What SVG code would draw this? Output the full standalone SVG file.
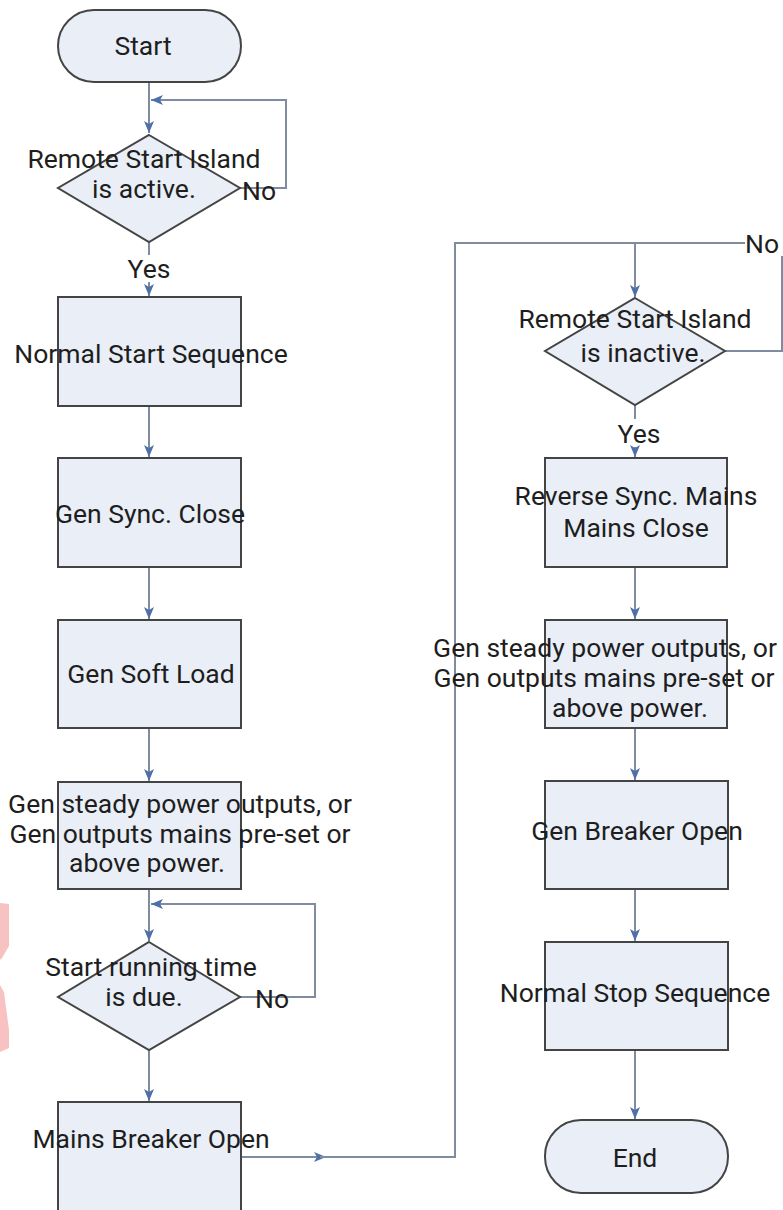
<svg xmlns="http://www.w3.org/2000/svg" width="783" height="1210" viewBox="0 0 783 1210">
<defs>
<marker id="ah" viewBox="0 0 12 10" refX="12" refY="5" markerWidth="12" markerHeight="10" markerUnits="userSpaceOnUse" orient="auto">
<path d="M0,0 L12,5 L0,10 L3,5 z" fill="#4e70a8"/>
</marker>
<style>
.box{fill:#e9eef7;stroke:#444;stroke-width:2}
.t{font-family:Roboto,"Liberation Sans",sans-serif;font-size:26.5px;fill:#1e1e1e;text-anchor:middle;dominant-baseline:central}
.l{font-family:Roboto,"Liberation Sans",sans-serif;font-size:26.5px;fill:#1e1e1e;dominant-baseline:central}
.c{fill:none;stroke:#7f8ca0;stroke-width:2}
</style>
</defs>
<rect width="783" height="1210" fill="#fff"/>
<g id="watermark" fill="#f8c2c2">
<polygon points="0,903 9,904 9,946 2,958 0,960"/>
<polygon points="0,985 4,992 9,1030 9,1048 0,1052"/>
</g>
<g id="connectors">
<path class="c" d="M149,82 V133" marker-end="url(#ah)"/>
<path class="c" d="M240,188 H286 V100 H151" marker-end="url(#ah)"/>
<path class="c" d="M149,242 V255"/>
<path class="c" d="M149,282 V296" marker-end="url(#ah)"/>
<path class="c" d="M149,406 V457" marker-end="url(#ah)"/>
<path class="c" d="M149,567 V619" marker-end="url(#ah)"/>
<path class="c" d="M149,728 V781" marker-end="url(#ah)"/>
<path class="c" d="M149,889 V941" marker-end="url(#ah)"/>
<path class="c" d="M240,997 H315 V904 H151" marker-end="url(#ah)"/>
<path class="c" d="M149,1050 V1101" marker-end="url(#ah)"/>
<path class="c" d="M241,1157 H326" marker-end="url(#ah)"/>
<path class="c" d="M320,1157 H455 V243 H745"/>
<path class="c" d="M725,351 H782 V256"/>
<path class="c" d="M635,243 V297" marker-end="url(#ah)"/>
<path class="c" d="M635,405 V419"/>
<path class="c" d="M635,447 V457" marker-end="url(#ah)"/>
<path class="c" d="M635,567 V619" marker-end="url(#ah)"/>
<path class="c" d="M635,728 V780" marker-end="url(#ah)"/>
<path class="c" d="M635,889 V941" marker-end="url(#ah)"/>
<path class="c" d="M635,1050 V1119" marker-end="url(#ah)"/>
</g>
<g id="start">
<rect class="box" x="58" y="10" width="183" height="72" rx="36" ry="36"/>
<text class="t" x="143" y="45">Start</text>
</g>
<g id="d1">
<polygon class="box" points="149,135 240,188 149,242 58,188"/>
<text class="t" x="144" y="158">Remote Start Island</text>
<text class="t" x="144" y="188">is active.</text>
<text class="l" x="242" y="190">No</text>
<text class="t" x="149" y="268">Yes</text>
</g>
<g id="b1">
<rect class="box" x="58" y="297" width="183" height="109"/>
<text class="t" x="151" y="353">Normal Start Sequence</text>
</g>
<g id="b2">
<rect class="box" x="58" y="458" width="183" height="109"/>
<text class="t" x="150" y="513">Gen Sync. Close</text>
</g>
<g id="b3">
<rect class="box" x="58" y="620" width="183" height="108"/>
<text class="t" x="151" y="673">Gen Soft Load</text>
</g>
<g id="b4">
<rect class="box" x="58" y="782" width="183" height="107"/>
<text class="t" x="180" y="803">Gen steady power outputs, or</text>
<text class="t" x="180" y="833">Gen outputs mains pre-set or</text>
<text class="t" x="147" y="862">above power.</text>
</g>
<g id="d2">
<polygon class="box" points="149,942 240,997 149,1050 58,997"/>
<text class="t" x="151" y="966">Start running time</text>
<text class="t" x="144" y="996">is due.</text>
<text class="l" x="255" y="998">No</text>
</g>
<g id="b5">
<rect class="box" x="58" y="1102" width="183" height="120"/>
<text class="t" x="151" y="1138">Mains Breaker Open</text>
</g>
<g id="d3">
<polygon class="box" points="635,298 725,351 635,405 545,351"/>
<text class="t" x="635" y="318">Remote Start Island</text>
<text class="t" x="643" y="352">is inactive.</text>
<text class="l" x="745" y="243">No</text>
<text class="t" x="639" y="433">Yes</text>
</g>
<g id="r1">
<rect class="box" x="545" y="458" width="182" height="109"/>
<text class="t" x="636" y="495">Reverse Sync. Mains</text>
<text class="t" x="636" y="527">Mains Close</text>
</g>
<g id="r2">
<rect class="box" x="545" y="620" width="182" height="108"/>
<text class="t" x="605" y="647">Gen steady power outputs, or</text>
<text class="t" x="604" y="677">Gen outputs mains pre-set or</text>
<text class="t" x="630" y="707">above power.</text>
</g>
<g id="r3">
<rect class="box" x="545" y="781" width="183" height="108"/>
<text class="t" x="637" y="830">Gen Breaker Open</text>
</g>
<g id="r4">
<rect class="box" x="545" y="942" width="183" height="108"/>
<text class="t" x="635" y="992">Normal Stop Sequence</text>
</g>
<g id="end">
<rect class="box" x="545" y="1120" width="183" height="73" rx="36" ry="36"/>
<text class="t" x="635" y="1157">End</text>
</g>
</svg>
